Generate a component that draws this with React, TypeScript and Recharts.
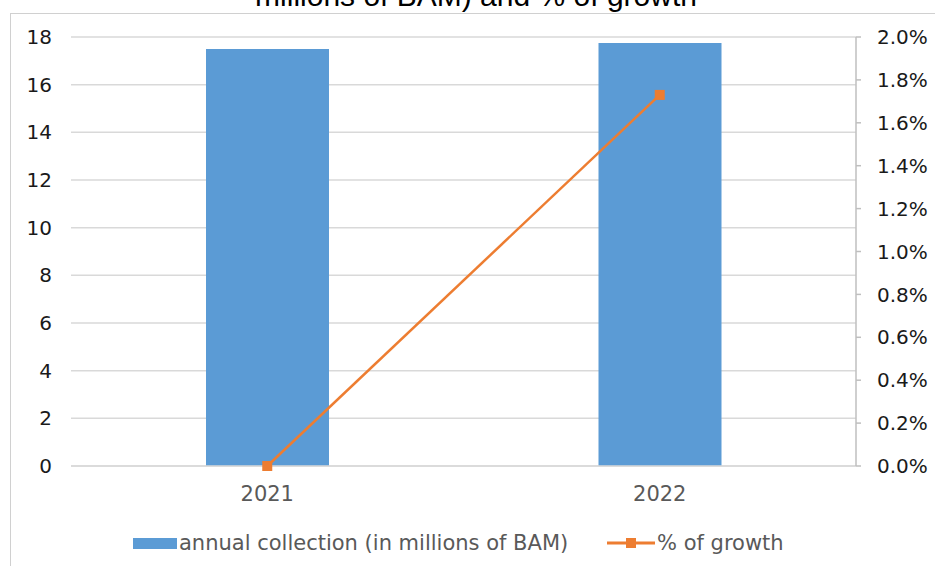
import React from 'react';
import {
  ComposedChart,
  Bar,
  Line,
  XAxis,
  YAxis,
  CartesianGrid,
  Legend,
} from 'recharts';

// Years on the category axis
const years = ['2021', '2022'];
// Annual collection, millions of BAM
const collection = [17.5, 17.75];
// Year-on-year growth (fraction)
const growth = [0, 0.0173];
// Axis ticks
const leftTicks = [0, 2, 4, 6, 8, 10, 12, 14, 16, 18];
const rightTicks = [0, 0.002, 0.004, 0.006, 0.008, 0.01, 0.012, 0.014, 0.016, 0.018, 0.02];

const BAR_NAME = 'annual collection (in millions of BAM)';
const LINE_NAME = '% of growth';

const data = years.map((year, i) => ({
  year,
  collection: collection[i],
  growth: growth[i],
}));

const BLUE = '#5b9bd5';
const ORANGE = '#ed7d31';
const FONT = '"DejaVu Sans", Verdana, sans-serif';

const SquareDot = (props: any) => {
  const { cx, cy } = props;
  if (cx == null || cy == null) return null;
  return <rect x={cx - 5} y={cy - 5} width={10} height={10} fill={ORANGE} />;
};

const LegendContent = () => (
  <div style={{ position: 'relative', width: 935, height: 46, fontFamily: FONT, fontSize: 21, color: '#595959' }}>
    <div style={{ position: 'absolute', left: 133, top: 18, width: 44, height: 11, background: BLUE }} />
    <div style={{ position: 'absolute', left: 179, top: 10, whiteSpace: 'nowrap', lineHeight: '26px' }}>{BAR_NAME}</div>
    <svg style={{ position: 'absolute', left: 606, top: 13 }} width={50} height={20}>
      <line x1={1} y1={10} x2={49} y2={10} stroke={ORANGE} strokeWidth={3} />
      <rect x={20} y={5} width={10} height={10} fill={ORANGE} />
    </svg>
    <div style={{ position: 'absolute', left: 657, top: 10, whiteSpace: 'nowrap', lineHeight: '26px' }}>{LINE_NAME}</div>
  </div>
);

export default function App() {
  return (
    <div style={{ position: 'absolute', left: 0, top: 0, width: 935, height: 566, background: '#fff', overflow: 'hidden' }}>
      {/* frame */}
      <div
        style={{
          position: 'absolute',
          left: 10,
          top: 13,
          width: 940,
          height: 570,
          borderLeft: '1px solid #d0d0d0',
          borderTop: '1px solid #d0d0d0',
        }}
      />
      {/* title, second line */}
      <svg style={{ position: 'absolute', left: 0, top: 0 }} width={935} height={20}>
        <text
          x={476}
          y={6}
          textAnchor="middle"
          fontFamily='"Liberation Sans", Arial, sans-serif'
          fontSize={30}
          fill="#000"
        >
          millions of BAM) and % of growth
        </text>
      </svg>
      <div style={{ position: 'absolute', left: 0, top: 0 }}>
        <ComposedChart
          width={935}
          height={566}
          data={data}
          margin={{ top: 37, right: 0, bottom: 14, left: 0 }}
          barCategoryGap="34%"
        >
          <CartesianGrid horizontal vertical={false} stroke="#d9d9d9" strokeWidth={1.5} yAxisId="left" />
          <XAxis
            dataKey="year"
            height={40}
            axisLine={{ stroke: '#d9d9d9', strokeWidth: 1.5 }}
            tickLine={false}
            tickMargin={14}
            tick={{ fill: '#595959', fontSize: 21, fontFamily: FONT }}
          />
          <YAxis
            yAxisId="left"
            orientation="left"
            width={71}
            domain={[0, 18]}
            ticks={leftTicks}
            axisLine={false}
            tickLine={false}
            tickSize={6}
            tickMargin={13}
            interval={0}
            tick={{ fill: '#1a1a1a', fontSize: 20, fontFamily: FONT }}
          />
          <YAxis
            yAxisId="right"
            orientation="right"
            width={79}
            domain={[0, 0.02]}
            ticks={rightTicks}
            interval={0}
            axisLine={{ stroke: '#bfbfbf', strokeWidth: 1.5 }}
            tickLine={{ stroke: '#bfbfbf', strokeWidth: 1.5 }}
            tickSize={5}
            tickMargin={16}
            tickFormatter={(v: number) => `${(v * 100).toFixed(1)}%`}
            tick={{ fill: '#1a1a1a', fontSize: 20, fontFamily: FONT, textAnchor: 'start' }}
          />
          <Legend
            verticalAlign="bottom"
            content={<LegendContent />}
            wrapperStyle={{ position: 'absolute', left: 0, top: 520, width: 935, height: 46 }}
          />
          <Bar
            yAxisId="left"
            dataKey="collection"
            name={BAR_NAME}
            fill={BLUE}
            barSize={123}
            isAnimationActive={false}
          />
          <Line
            yAxisId="right"
            dataKey="growth"
            name={LINE_NAME}
            stroke={ORANGE}
            strokeWidth={2.5}
            dot={<SquareDot />}
            activeDot={false}
            isAnimationActive={false}
          />
        </ComposedChart>
      </div>
    </div>
  );
}
